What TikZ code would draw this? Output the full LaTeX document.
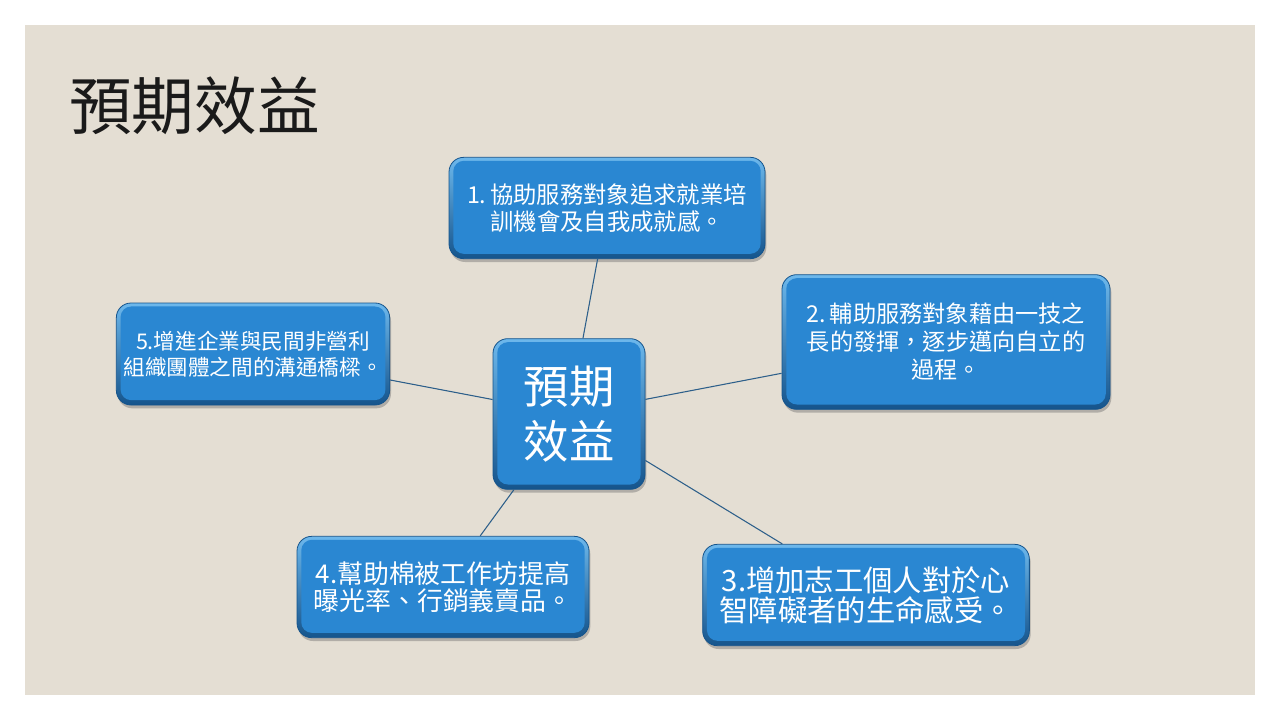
\documentclass[tikz,border=0pt]{standalone}
\usepackage{fontspec}
\setmainfont{Noto Sans CJK TC}
\newfontfamily\cjk{Noto Sans CJK TC}
\definecolor{beige}{HTML}{E4DED3}
\definecolor{boxblue}{HTML}{2A87D2}
\definecolor{rimtop}{HTML}{6DB8EC}
\definecolor{rimbot}{HTML}{15548C}
\definecolor{linkblue}{HTML}{2D5F8A}
\definecolor{titlecol}{HTML}{1A1A1A}
\tikzset{
  bluebox/.style={
    rounded corners=11pt, draw=rimbot, line width=0.6pt,
    top color=rimtop, bottom color=rimbot,
    text=white, align=center, inner sep=0pt,
    preaction={fill=black!55, opacity=0.45,
      transform canvas={xshift=1pt,yshift=-2.5pt}},
    path picture={\fill[boxblue,rounded corners=8pt]
      ([shift={(3.2pt,-2.6pt)}]path picture bounding box.north west) rectangle
      ([shift={(-3.2pt,3.6pt)}]path picture bounding box.south east);}
  },
  link/.style={draw=linkblue, line width=0.8pt}
}
\begin{document}
\begin{tikzpicture}[x=0.75pt,y=-0.75pt]
\useasboundingbox (0,0) rectangle (1280,720);
\fill[white] (0,0) rectangle (1280,720);
\fill[beige] (25,25) rectangle (1255,695);
\node[anchor=west, text=titlecol, inner sep=0pt, font=\fontsize{47}{50}\selectfont] (title) at (69,106) {預期效益};

\node[bluebox, minimum width=114pt, minimum height=113pt, font=\fontsize{34}{41}\selectfont] (c) at (569,414) {預期\\效益};
\node[bluebox, minimum width=237pt, minimum height=76pt, font=\fontsize{17.5}{20.3}\selectfont] (b1) at (607,208) {1.\,協助服務對象追求就業培\\訓機會及自我成就感。};
\node[bluebox, minimum width=246pt, minimum height=101pt, font=\fontsize{17.4}{21}\selectfont] (b2) at (946,342) {2.\,輔助服務對象藉由一技之\\長的發揮，逐步邁向自立的\\過程。};
\node[bluebox, minimum width=245pt, minimum height=76pt, font=\fontsize{22}{22.5}\selectfont] (b3) at (866,595) {3.增加志工個人對於心\\智障礙者的生命感受。};
\node[bluebox, minimum width=219pt, minimum height=76pt, font=\fontsize{19.4}{20.5}\selectfont] (b4) at (443,587) {4.幫助棉被工作坊提高\\曝光率、行銷義賣品。};
\node[bluebox, minimum width=205pt, minimum height=76.5pt, font=\fontsize{16.2}{19.5}\selectfont] (b5) at (253,354) {5.增進企業與民間非營利\\組織團體之間的溝通橋樑。};

\draw[link] (b1) -- (c);
\draw[link] (c) -- (b2);
\draw[link] (c) -- (b3);
\draw[link] (c) -- (b4);
\draw[link] (b5) -- (c);
\end{tikzpicture}
\end{document}
